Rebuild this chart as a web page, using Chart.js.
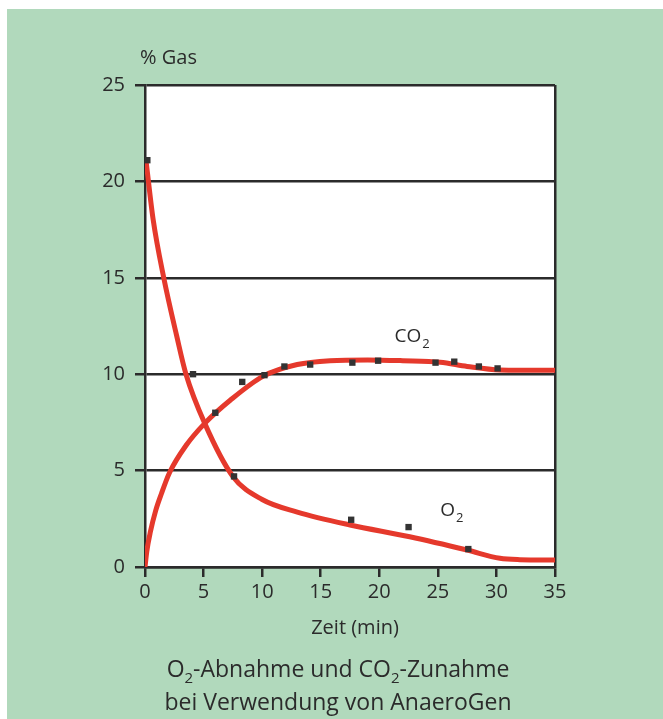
<!DOCTYPE html>
<html>
<head>
<meta charset="utf-8">
<script src="https://cdn.jsdelivr.net/npm/chart.js@4/dist/chart.umd.min.js"></script>
<style>
  html, body { margin: 0; padding: 0; background: #ffffff; }
  #bg { position: absolute; left: 7px; top: 9px; width: 656px; height: 710px; background: #b1d9bc; }
  #wrap { position: absolute; left: 0; top: 0; width: 663px; height: 719px; }
  #caption { position: absolute; left: 0; top: 653px; width: 676px; text-align: center;
    font-family: "Open Sans", sans-serif; font-size: 23px; line-height: 30px; color: #2b2b2b; }
  #caption .s { font-size: 15px; position: relative; top: 6px; }
</style>
</head>
<body>
<div id="bg"></div>
<div id="wrap"><canvas id="c" width="663" height="719"></canvas></div>
<div id="caption">O<span class="s">2</span>-Abnahme und CO<span class="s">2</span>-Zunahme<br>bei Verwendung von AnaeroGen</div>
<script>
// ---- data ----
const xTickValues = [0, 5, 10, 15, 20, 25, 30, 35];
const yTickValues = [0, 5, 10, 15, 20, 25];

// measured points (markers)
const o2PointsX = [0.2, 4.1, 7.6, 17.6, 22.5, 27.6];
const o2PointsY = [21.1, 10.0, 4.7, 2.45, 2.07, 0.93];
const co2PointsX = [6.0, 8.3, 10.2, 11.9, 14.1, 17.7, 19.9, 24.8, 26.4, 28.5, 30.1];
const co2PointsY = [8.0, 9.6, 9.95, 10.4, 10.5, 10.6, 10.7, 10.6, 10.65, 10.4, 10.3];

// fitted curves
const o2CurveX = [0.1, 0.7, 1.6, 2.7, 3.5, 5.1, 7.5, 10.0, 13.0, 17.5, 22.6, 27.5, 30.3, 32.0, 35.0];
const o2CurveY = [21.0, 18.0, 15.0, 12.0, 10.0, 7.45, 4.7, 3.5, 2.85, 2.18, 1.57, 0.88, 0.45, 0.38, 0.36];
const co2CurveX = [0.0, 0.15, 0.45, 0.9, 1.4, 2.1, 3.5, 5.1, 7.3, 10.1, 13.0, 15.8, 19.0, 22.0, 25.2, 27.5, 30.3, 35.0];
const co2CurveY = [0.0, 0.8, 1.8, 2.9, 3.8, 4.9, 6.3, 7.45, 8.66, 9.9, 10.5, 10.7, 10.74, 10.7, 10.62, 10.4, 10.22, 10.2];

const yAxisLabel = "% Gas";
const xAxisLabel = "Zeit (min)";
const seriesLabels = [
  { main: "CO", sub: "2", x: 21.3, y: 11.67 },
  { main: "O", sub: "2", x: 25.2, y: 2.65 }
];

const zip = (xs, ys) => xs.map((x, i) => ({ x: x, y: ys[i] }));

const INK = '#2b2b2b';
const RED = '#e5392c';
const FONT = '"Open Sans", sans-serif';

const decor = {
  id: 'decor',
  beforeDraw(chart) {
    const { ctx, chartArea: a } = chart;
    ctx.save();
    ctx.fillStyle = '#ffffff';
    ctx.fillRect(a.left, a.top, a.right - a.left, a.bottom - a.top);
    ctx.restore();
  },
  afterDraw(chart) {
    const { ctx, scales } = chart;
    ctx.save();
    ctx.fillStyle = INK;
    ctx.textBaseline = 'alphabetic';
    ctx.font = '20px ' + FONT;
    ctx.textAlign = 'left';
    ctx.fillText(yAxisLabel, 140, 64);
    ctx.textAlign = 'center';
    ctx.fillText(xAxisLabel, 355, 634);
    ctx.textAlign = 'left';
    seriesLabels.forEach(l => {
      const px = scales.x.getPixelForValue(l.x);
      const py = scales.y.getPixelForValue(l.y);
      ctx.font = '19px ' + FONT;
      ctx.fillText(l.main, px, py);
      const w = ctx.measureText(l.main).width;
      ctx.font = '13px ' + FONT;
      ctx.fillText(l.sub, px + w + 1, py + 6);
    });
    ctx.restore();
  }
};

new Chart(document.getElementById('c'), {
  type: 'scatter',
  data: {
    datasets: [
      { label: 'O2 Messwerte', data: zip(o2PointsX, o2PointsY), pointStyle: 'rect', pointRadius: 4.5,
        backgroundColor: '#333333', borderColor: '#333333', borderWidth: 0, showLine: false },
      { label: 'CO2 Messwerte', data: zip(co2PointsX, co2PointsY), pointStyle: 'rect', pointRadius: 4.5,
        backgroundColor: '#333333', borderColor: '#333333', borderWidth: 0, showLine: false },
      { label: 'O2', data: zip(o2CurveX, o2CurveY), showLine: true, pointRadius: 0, borderColor: RED,
        borderWidth: 5, cubicInterpolationMode: 'monotone', borderCapStyle: 'round', borderJoinStyle: 'round' },
      { label: 'CO2', data: zip(co2CurveX, co2CurveY), showLine: true, pointRadius: 0, borderColor: RED,
        borderWidth: 5, cubicInterpolationMode: 'monotone', borderCapStyle: 'round', borderJoinStyle: 'round' }
    ]
  },
  options: {
    responsive: false,
    animation: false,
    layout: { padding: { left: 0, right: 108, top: 85, bottom: 72 } },
    plugins: { legend: { display: false }, tooltip: { enabled: false } },
    scales: {
      x: {
        type: 'linear', min: 0, max: 35,
        afterFit(s) { s.height = 80; },
        afterBuildTicks(s) { s.ticks = xTickValues.map(v => ({ value: v })); },
        grid: {
          drawOnChartArea: true,
          color: c => (c.tick && c.tick.value === 35) ? INK : 'rgba(0,0,0,0)',
          tickColor: INK, lineWidth: 2.5, tickLength: 10
        },
        border: { display: true, color: INK, width: 2.5 },
        ticks: { color: INK, font: { family: FONT, size: 20 }, padding: 3, maxRotation: 0, autoSkip: false }
      },
      y: {
        type: 'linear', min: 0, max: 25,
        afterFit(s) { s.width = 145; },
        afterBuildTicks(s) { s.ticks = yTickValues.map(v => ({ value: v })); },
        grid: { drawOnChartArea: true, color: INK, tickColor: INK, lineWidth: 2.5, tickLength: 10 },
        border: { display: true, color: INK, width: 2.5 },
        ticks: { color: INK, font: { family: FONT, size: 20 }, padding: 10, autoSkip: false }
      }
    }
  },
  plugins: [decor]
});
</script>
</body>
</html>
